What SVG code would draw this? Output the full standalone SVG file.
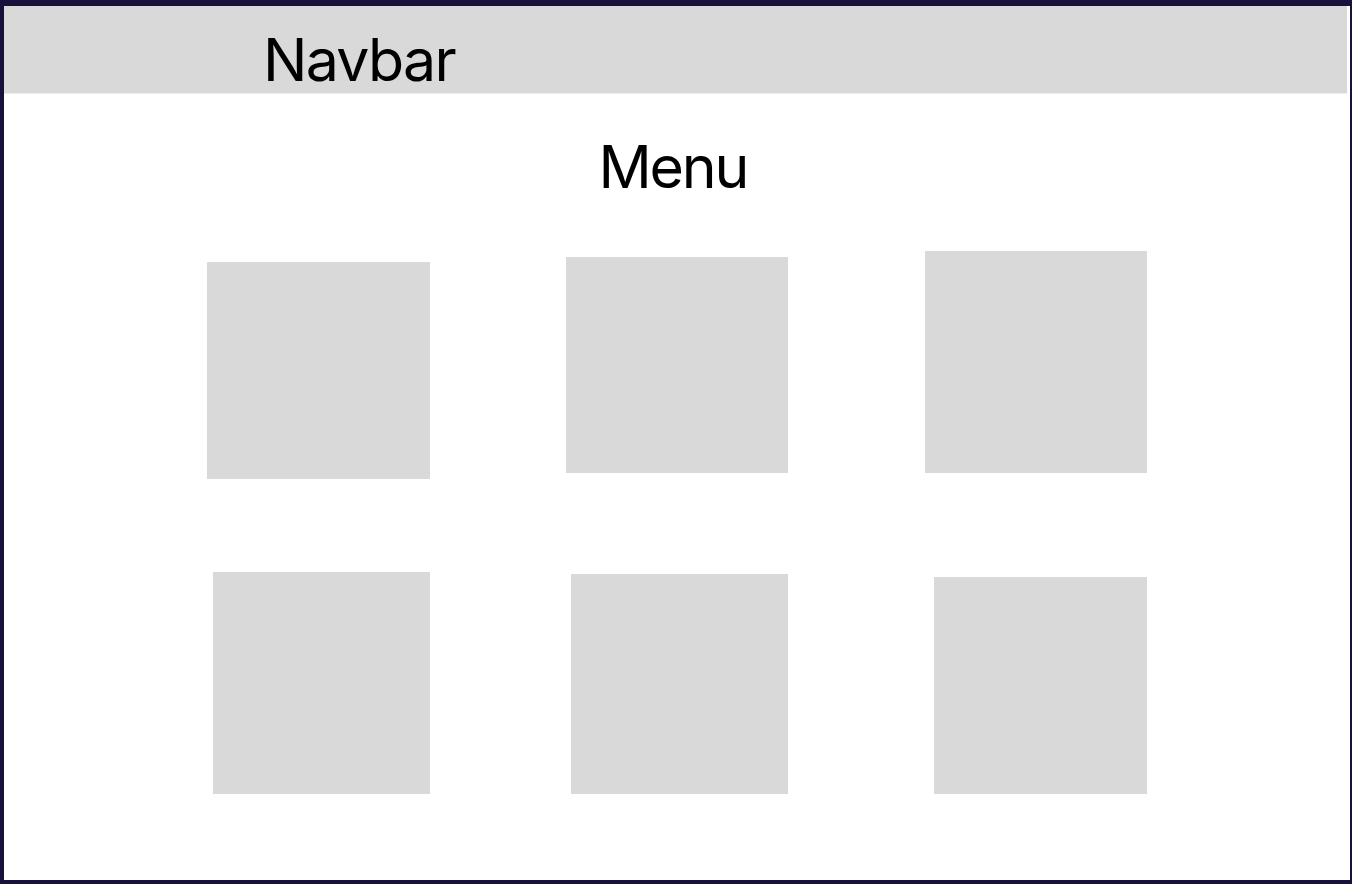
<svg xmlns="http://www.w3.org/2000/svg" width="1352" height="884" viewBox="0 0 1352 884">
<style>
.card{fill:#D9D9D9}
.lbl{font-family:Inter,"Liberation Sans",sans-serif;fill:#000;font-size:59px}
</style>
<rect x="0" y="0" width="1352" height="884" fill="#1A103C"/>
<rect x="4" y="6" width="1346" height="874" fill="#FFFFFF"/>
<g id="navbar">
<rect x="4" y="6" width="1343" height="87.5" class="card"/>
<text class="lbl" x="263" y="81" letter-spacing="-1.7">Navbar</text>
</g>
<g id="menu-title">
<text class="lbl" x="598.5" y="188" letter-spacing="-2.2">Menu</text>
</g>
<g id="card1"><rect class="card" x="207" y="262" width="223" height="217"/></g>
<g id="card2"><rect class="card" x="566" y="257" width="222" height="216"/></g>
<g id="card3"><rect class="card" x="925" y="251" width="222" height="222"/></g>
<g id="card4"><rect class="card" x="213" y="572" width="217" height="222"/></g>
<g id="card5"><rect class="card" x="571" y="574" width="217" height="220"/></g>
<g id="card6"><rect class="card" x="934" y="577" width="213" height="217"/></g>
<g id="connectors"></g>
</svg>
